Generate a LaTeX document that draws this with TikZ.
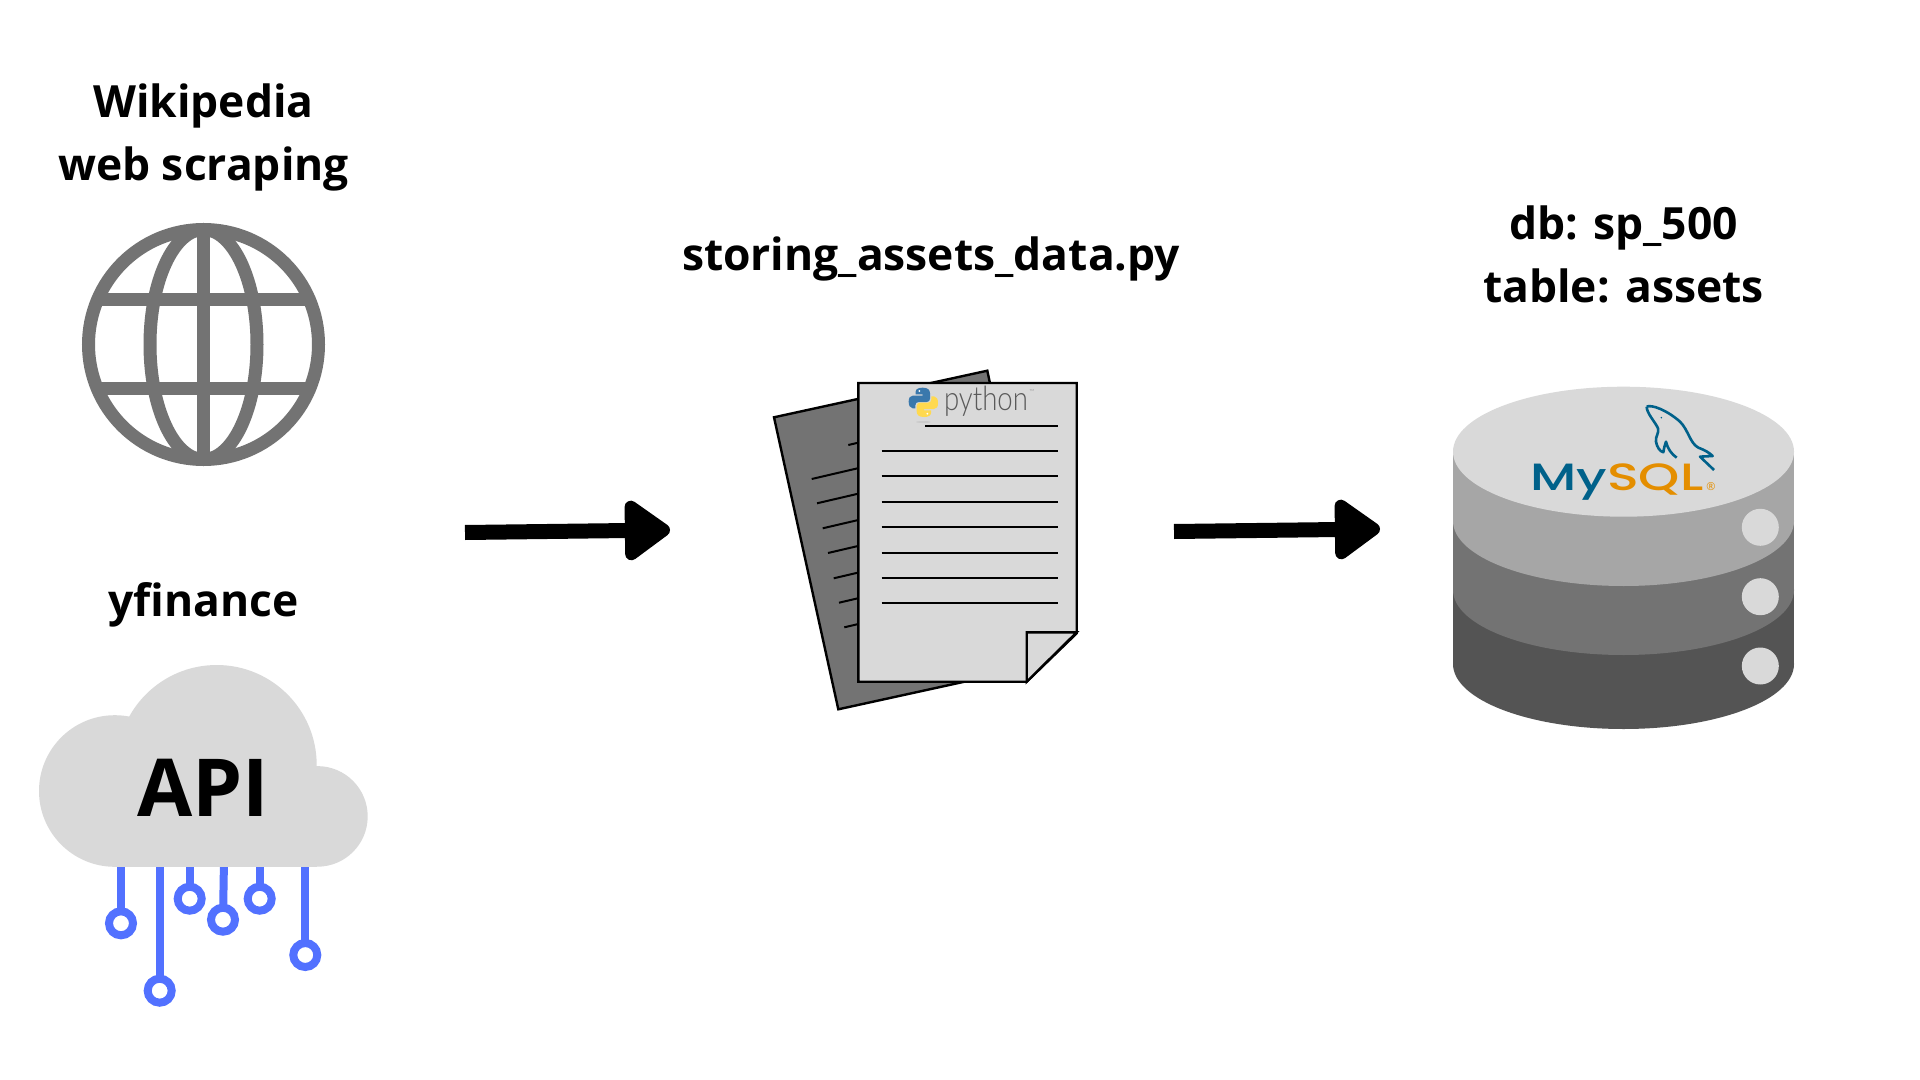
\documentclass[tikz,border=0pt]{standalone}
\usepackage{fontspec}
\usepackage{graphicx}
\usetikzlibrary{arrows.meta}
\setmainfont{Open Sans}[BoldFont=* Bold]
\newfontfamily\pyfont{Lato}[UprightFont=* Light]
\newfontfamily\sqlfont{Poppins}[UprightFont=* Medium]
\definecolor{lightgrey}{HTML}{D9D9D9}
\definecolor{midgrey}{HTML}{A6A6A6}
\definecolor{darkgrey}{HTML}{737373}
\definecolor{deepgrey}{HTML}{545454}
\definecolor{wireblue}{HTML}{5271FF}
\definecolor{sqlblue}{HTML}{00618A}
\definecolor{sqlorange}{HTML}{E48E00}
\definecolor{pyblue}{HTML}{3A78AC}
\definecolor{pyyellow}{HTML}{FFD94F}
\definecolor{pytext}{HTML}{5A5A5A}
\tikzset{
  label text/.style={font=\bfseries\fontsize{22.2}{31.5}\selectfont,align=center,inner sep=0pt,text=black},
  flow/.style={line width=7.5pt,-{Triangle[length=25pt,width=34pt,round,line width=8pt]}},
  globe line/.style={draw=darkgrey,line width=6.5pt},
  wire/.style={draw=wireblue,line width=4pt},
  wire end/.style={draw=wireblue,line width=4pt,fill=white},
  page/.style={draw=black,line width=1.2pt,line join=miter},
  rule/.style={draw=black,line width=1pt},
}
\begin{document}
\begin{tikzpicture}[x=0.5pt,y=-0.5pt]
\useasboundingbox (0,0) rectangle (1920,1080);
\fill[white] (0,0) rectangle (1920,1080);

% left labels
\node[label text] (wiki) at (203.5,137) {Wikipedia\\web scraping};
\node[label text,anchor=base] (yf) at (203.5,616.5) {yfinance};

% globe
\draw[globe line] (203.5,344.5) circle[radius=115];
\draw[globe line] (203.5,344.5) ellipse[x radius=53.5,y radius=115];
\draw[globe line] (203.5,229.5) -- (203.5,459.5);
\draw[globe line] (102,299.5) -- (305,299.5);
\draw[globe line] (102,388.5) -- (305,388.5);

% cloud wires
\foreach \wx/\wy/\wz in {121/121/923.3,159.7/159.7/990.7,189.7/189.7/898.7,224/223/919.7,259.7/259.7/898.7,305.3/305.3/955}{
  \draw[wire] (\wx,860) -- (\wy,\wz);
  \draw[wire end] (\wy,\wz) circle[radius=12];
}
% cloud
\fill[lightgrey] (114.8,791) circle[radius=75.8];
\fill[lightgrey] (216.7,765) circle[radius=100];
\fill[lightgrey] (317.4,816.4) circle[radius=50.3];
\fill[lightgrey] (114.8,791) rectangle (317.4,866.7);
\node[font=\bfseries\fontsize{40}{40}\selectfont,inner sep=0pt,anchor=base] (api) at (203,816.7) {API};

% arrows
\coordinate (a1s) at (465,532.5);
\coordinate (a1e) at (670,530);
\coordinate (a2s) at (1174,531.5);
\coordinate (a2e) at (1380,529);
\draw[flow] (a1s) -- (a1e);
\draw[flow] (a2s) -- (a2e);

% script document
\node[label text,anchor=base] (script) at (931,270.7) {storing\_assets\_data.py};
\draw[page,fill=darkgrey] (774,417.3) -- (987.3,370.7) -- (1000,430) -- (1000,600) -- (980,678.3) -- (838.3,709.3) -- cycle;
\foreach \bx/\by in {848.3/445,811.7/479,817/503.3,822.7/528.3,828/553,833.7/578.3,839/602.7,844.3/627.3}{
  \draw[rule] (\bx,\by) -- ++(50,-11.65);
}
\draw[page,fill=lightgrey] (858.3,383) -- (1076.7,383) -- (1076.7,633.3) -- (1026.7,681.7) -- (858.3,681.7) -- cycle;
\draw[page,fill=lightgrey] (1026.7,632.3) -- (1076.7,632.3) -- (1026.7,681.7) -- cycle;
\draw[rule] (925.3,425.7) -- (1057.7,425.7);
\foreach \ly in {451.3,476.3,501.7,527,552.7,577.7,603.3}{
  \draw[rule] (881.7,\ly) -- (1057.7,\ly);
}
% python logo
\begin{scope}[shift={(900,380)},scale=1/3]
  \fill[lightgrey!85!gray] (70,126) ellipse[x radius=22,y radius=3];
  \fill[pyblue] (68,23) .. controls (84,23) and (90,30) .. (90,40) -- (90,56) .. controls (90,62) and (86,66) .. (80,66) -- (56,66) .. controls (50,66) and (46,70) .. (46,76) -- (46,85) -- (38,85) .. controls (30,85) and (26,76) .. (26,65) .. controls (26,54) and (30,47) .. (38,47) -- (68,47) -- (68,43) -- (47,43) -- (47,35) .. controls (47,27) and (56,23) .. (68,23) -- cycle;
  \fill[pyyellow] (72,111) .. controls (56,111) and (50,104) .. (50,94) -- (50,78) .. controls (50,72) and (54,68) .. (60,68) -- (84,68) .. controls (90,68) and (94,64) .. (94,58) -- (94,49) -- (102,49) .. controls (110,49) and (114,58) .. (114,69) .. controls (114,80) and (110,87) .. (102,87) -- (72,87) -- (72,91) -- (93,91) -- (93,99) .. controls (93,107) and (84,111) .. (72,111) -- cycle;
  \fill[white] (58,33) circle[radius=3];
  \fill[white] (82,101) circle[radius=3];
\end{scope}
\node[font=\pyfont\fontsize{15}{15}\selectfont,text=pytext,inner sep=0pt,anchor=base] (py) at (986,410.5) {\scalebox{0.92}[1.12]{python}};
\node[font=\pyfont\fontsize{3.5}{4}\selectfont,text=pytext!70,inner sep=0pt] (tm) at (1032,391.7) {™};

% database
\node[label text] (dbl) at (1623.5,254.5) {db: sp\_500\\table: assets};
\fill[deepgrey] (1453,590) rectangle (1794,664);
\fill[deepgrey] (1623.5,664) ellipse[x radius=170.5,y radius=65];
\fill[darkgrey] (1453,521) rectangle (1794,590);
\fill[darkgrey] (1623.5,590) ellipse[x radius=170.5,y radius=65];
\fill[midgrey] (1453,451.7) rectangle (1794,521);
\fill[midgrey] (1623.5,521) ellipse[x radius=170.5,y radius=65];
\fill[lightgrey] (1623.5,451.7) ellipse[x radius=170.5,y radius=65];
\foreach \cy in {527.3,596.7,666}{
  \fill[lightgrey] (1760.3,\cy) circle[radius=18.5];
}
% MySQL logo
\node[font=\sqlfont\fontsize{19}{20}\selectfont,inner sep=0pt,anchor=base west] (sql) at (1530,490) {\scalebox{1.38}[1]{\textcolor{sqlblue}{My}\textcolor{sqlorange}{SQL}}};
\node[font=\fontsize{5.5}{7}\selectfont,text=sqlorange,inner sep=0pt] (reg) at (1711,486.3) {®};
\begin{scope}[shift={(1520,395)},scale=1/3]
  \draw[sqlblue,line width=1.3pt,line join=round] (380,35) .. controls (395,28) and (440,45) .. (480,80) .. controls (505,105) and (510,145) .. (535,158) .. controls (555,165) and (570,175) .. (578,183) -- (540,185) -- (582,225);
  \draw[sqlblue,line width=1.3pt,line join=round] (380,35) .. controls (380,55) and (405,80) .. (414,100) .. controls (418,115) and (405,125) .. (408,140) .. controls (410,155) and (420,170) .. (430,172) .. controls (432,160) and (434,150) .. (438,140) .. controls (442,160) and (455,178) .. (470,188);
  \fill[sqlblue] (424,68) circle[radius=2.5];
\end{scope}
\end{tikzpicture}
\end{document}
